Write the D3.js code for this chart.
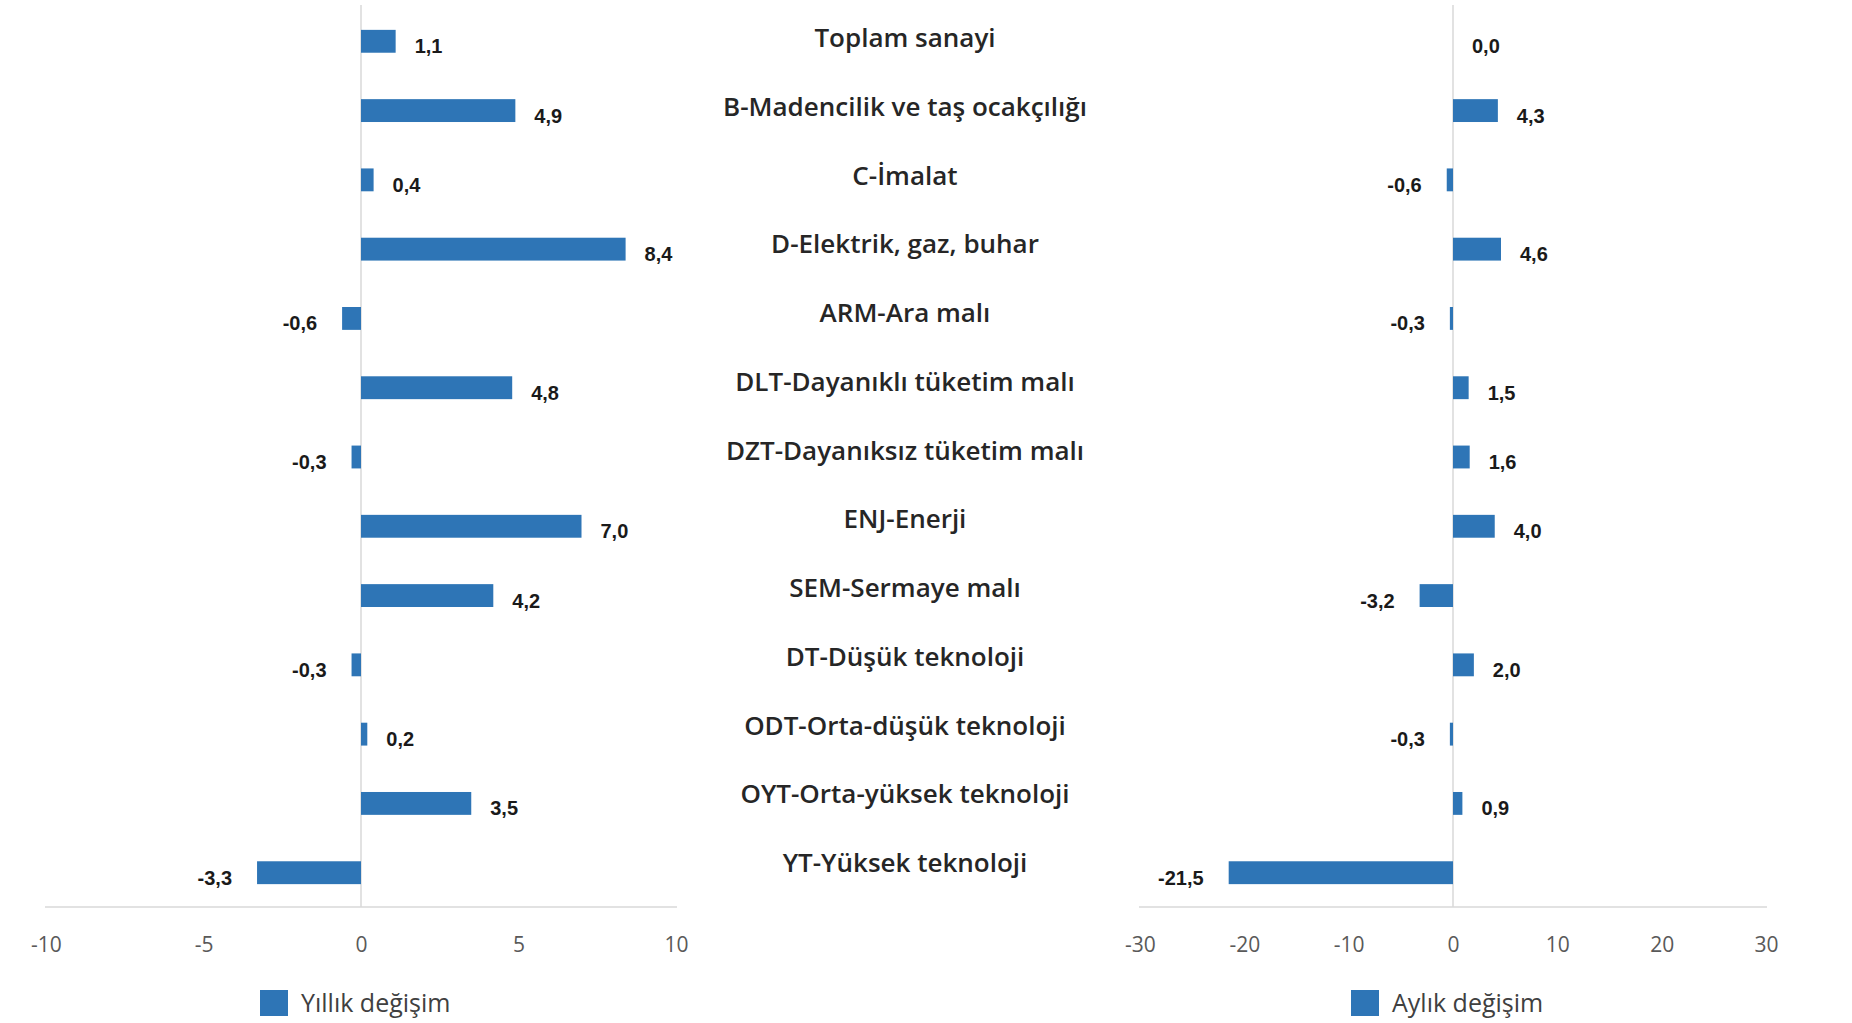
<!DOCTYPE html>
<html>
<head>
<meta charset="utf-8">
<script src="https://cdn.jsdelivr.net/npm/d3@7"></script>
<style>
  body { margin: 0; background: #fff; }
  svg { display: block; }
</style>
</head>
<body>
<div id="chart"></div>
<script>
const categories = [
    "Toplam sanayi",
    "B-Madencilik ve taş ocakçılığı",
    "C-İmalat",
    "D-Elektrik, gaz, buhar",
    "ARM-Ara malı",
    "DLT-Dayanıklı tüketim malı",
    "DZT-Dayanıksız tüketim malı",
    "ENJ-Enerji",
    "SEM-Sermaye malı",
    "DT-Düşük teknoloji",
    "ODT-Orta-düşük teknoloji",
    "OYT-Orta-yüksek teknoloji",
    "YT-Yüksek teknoloji"
];
const yillik = [1.1, 4.9, 0.4, 8.4, -0.6, 4.8, -0.3, 7.0, 4.2, -0.3, 0.2, 3.5, -3.3];
const aylik = [0.0, 4.3, -0.6, 4.6, -0.3, 1.5, 1.6, 4.0, -3.2, 2.0, -0.3, 0.9, -21.5];
const yillikTicks = [-10, -5, 0, 5, 10];
const aylikTicks = [-30, -20, -10, 0, 10, 20, 30];
const seriesNames = ["Yıllık değişim", "Aylık değişim"];

const width = 1852, height = 1023;
const barColor = "#2E75B6";
const gridColor = "#d9d9d9";
const plotTop = 7, plotBottom = 907;

const svg = d3.select("#chart").append("svg")
    .attr("width", width)
    .attr("height", height);

const y = d3.scaleBand()
    .domain(categories)
    .range([plotTop, plotBottom])
    .paddingInner(0.67)
    .paddingOuter(0.33);

// the middle labels sit on their own, slightly tighter, column
const yLabel = d3.scalePoint()
    .domain(categories)
    .range([38, 863]);

const fmt = v => v.toFixed(1).replace(".", ",");

function drawPanel(values, domain, ticks, x0, x1, legendX, legendText) {
    const x = d3.scaleLinear().domain(domain).range([x0, x1]);
    const g = svg.append("g");

    // axis line at bottom
    g.append("line")
        .attr("x1", x0 - 1).attr("x2", x1 + 1)
        .attr("y1", plotBottom).attr("y2", plotBottom)
        .attr("stroke", gridColor).attr("stroke-width", 1.5);

    // zero line
    g.append("line")
        .attr("x1", x(0)).attr("x2", x(0))
        .attr("y1", 5).attr("y2", plotBottom)
        .attr("stroke", gridColor).attr("stroke-width", 1.5);

    const axis = g.append("g")
        .attr("transform", `translate(0,${plotBottom})`)
        .call(d3.axisBottom(x).tickValues(ticks).tickSize(0).tickPadding(30).tickFormat(d => d));
    axis.select(".domain").remove();
    axis.selectAll("text")
        .attr("font-family", "'Open Sans', sans-serif")
        .attr("font-size", 21)
        .attr("fill", "#595959");

    const data = categories.map((c, i) => ({ c, v: values[i] }));

    g.selectAll(".bar")
        .data(data)
        .enter().append("rect")
        .attr("class", "bar")
        .attr("x", d => x(Math.min(0, d.v)))
        .attr("y", d => y(d.c))
        .attr("width", d => Math.abs(x(d.v) - x(0)))
        .attr("height", y.bandwidth())
        .attr("fill", barColor);

    g.selectAll(".val")
        .data(data)
        .enter().append("text")
        .attr("class", "val")
        .attr("x", d => d.v < 0 ? x(d.v) - 25 : x(d.v) + 19)
        .attr("y", d => y(d.c) + y.bandwidth() / 2 + 5)
        .attr("dy", "0.35em")
        .attr("text-anchor", d => d.v < 0 ? "end" : "start")
        .attr("font-family", "'Liberation Sans', Arial, sans-serif")
        .attr("font-weight", "bold")
        .attr("font-size", 20)
        .attr("fill", "#1a1a1a")
        .text(d => fmt(d.v));

    // legend
    g.append("rect")
        .attr("x", legendX).attr("y", 990)
        .attr("width", 28).attr("height", 26)
        .attr("fill", barColor);
    g.append("text")
        .attr("x", legendX + 41).attr("y", 1003)
        .attr("dy", "0.35em")
        .attr("font-family", "'Open Sans', sans-serif")
        .attr("font-size", 25)
        .attr("fill", "#404040")
        .text(legendText);
}

drawPanel(yillik, [-10, 10], yillikTicks, 46, 676, 260, seriesNames[0]);
drawPanel(aylik, [-30, 30], aylikTicks, 1140, 1766, 1351, seriesNames[1]);

// category labels in the middle
svg.append("g").selectAll("text")
    .data(categories)
    .enter().append("text")
    .attr("x", 905)
    .attr("y", d => yLabel(d))
    .attr("dy", "0.35em")
    .attr("text-anchor", "middle")
    .attr("font-family", "'Open Sans', sans-serif")
    .attr("font-weight", 600)
    .attr("font-size", 26)
    .attr("fill", "#262626")
    .text(d => d);
</script>
</body>
</html>
